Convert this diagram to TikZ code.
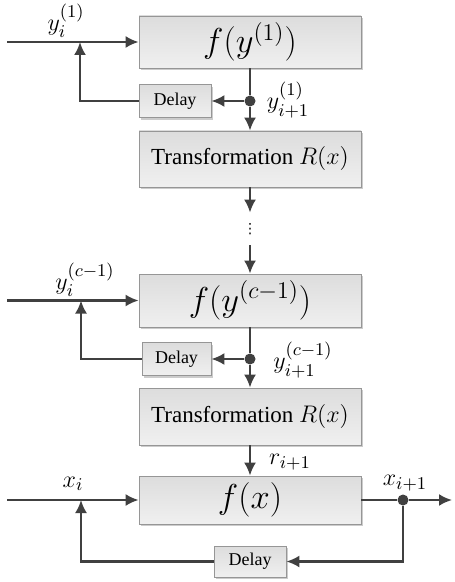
\documentclass[tikz,border=0pt]{standalone}
\usepackage{fontspec}
\setmainfont{Liberation Serif}
\newfontfamily\symfont{DejaVu Sans}
\usepackage{amsmath}
\usetikzlibrary{arrows.meta,shadows,calc}
\definecolor{linegray}{RGB}{64,64,64}
\definecolor{boxedge}{RGB}{150,150,150}
\tikzset{
	block/.style={draw=boxedge, top color=gray!27, bottom color=gray!12, inner sep=0pt, minimum width=111pt,
		drop shadow={shadow xshift=1.2pt, shadow yshift=-1.2pt, fill=gray!40, opacity=1}},
	delaybox/.style={block, minimum width=36pt, minimum height=16.5pt, font=\fontsize{9}{10}\selectfont},
	flow/.style={draw=linegray, line width=1.1pt, -{Latex[length=6.5pt,width=6pt]}},
	wire/.style={draw=linegray, line width=1.1pt},
	junction/.style={circle, fill=linegray, inner sep=0pt, minimum size=5.5pt},
	lab/.style={font=\fontsize{13}{14}\selectfont, inner sep=0pt}
}

\begin{document}
\begin{tikzpicture}[x=0.5pt,y=-0.5pt]
	\useasboundingbox (0,0) rectangle (454,582);
	
	% first stage
	\node[block, minimum height=26pt, font=\fontsize{16.5}{19}\selectfont] (F1) at (250,42) {$f(y^{(1)})$};
	\node[delaybox] (D1) at (175,101) {Delay};
	\node[block, minimum height=28pt, font=\fontsize{11.5}{13}\selectfont] (T1) at (250,159) {Transformation $R(x)$};
	\node[junction] (J1) at (250,101) {};
	\coordinate (In1) at (7,42);
	\coordinate (B1) at (80,42);
	
	\draw[flow] (In1) -- (F1.west);
	\draw[wire] (F1.south) -- (J1);
	\draw[flow] (J1) -- (T1.north);
	\draw[flow] (J1) -- (D1.east);
	\draw[flow] (D1.west) -| (B1);
	
	\node[lab] (Y1in) at (66,21) {$y_i^{(1)}$};
	\node[lab] (Y1out) at (288,100) {$y_{i+1}^{(1)}$};
	
	% dots
	\node[inner sep=0pt, minimum height=16pt, font=\fontsize{7}{8}\selectfont\symfont] (Dots) at (250,229) {⋮};
	\draw[flow] (T1.south) -- (Dots.north);
	
	% second stage
	\node[block, minimum height=26.5pt, font=\fontsize{16.5}{19}\selectfont] (F2) at (250,300.5) {$f(y^{(c-1)})$};
	\node[delaybox, minimum width=34.5pt] (D2) at (176.5,359) {Delay};
	\node[block, minimum height=28.5pt, font=\fontsize{11.5}{13}\selectfont] (T2) at (250,416.5) {Transformation $R(x)$};
	\node[junction] (J2) at (250,359) {};
	\coordinate (In2) at (7,300.5);
	\coordinate (B2) at (81,300.5);
	
	\draw[flow] (Dots.south) -- (F2.north);
	\draw[flow] (In2) -- (F2.west);
	\draw[wire] (F2.south) -- (J2);
	\draw[flow] (J2) -- (T2.north);
	\draw[flow] (J2) -- (D2.east);
	\draw[flow] (D2.west) -| (B2);
	
	\node[lab] (Y2in) at (85,280) {$y_i^{(c-1)}$};
	\node[lab] (Y2out) at (303,360) {$y_{i+1}^{(c-1)}$};
	
	% last stage
	\node[block, minimum height=24pt, font=\fontsize{16.5}{19}\selectfont] (F3) at (250,500) {$f(x)$};
	\node[delaybox, minimum height=15.5pt] (D3) at (250,561.5) {Delay};
	\node[junction] (J3) at (403,500) {};
	\coordinate (In3) at (7,500);
	\coordinate (B3) at (81,500);
	\coordinate (Out) at (452,500);
	
	\draw[flow] (T2.south) -- (F3.north);
	\draw[flow] (In3) -- (F3.west);
	\draw[wire] (F3.east) -- (J3);
	\draw[flow] (J3) -- (Out);
	\draw[flow] (J3) |- (D3.east);
	\draw[flow] (D3.west) -| (B3);
	
	\node[lab] (Xin) at (73,484) {$x_i$};
	\node[lab] (Xout) at (405,483) {$x_{i+1}$};
	\node[lab] (Rin) at (290,462) {$r_{i+1}$};
\end{tikzpicture}
\end{document}
